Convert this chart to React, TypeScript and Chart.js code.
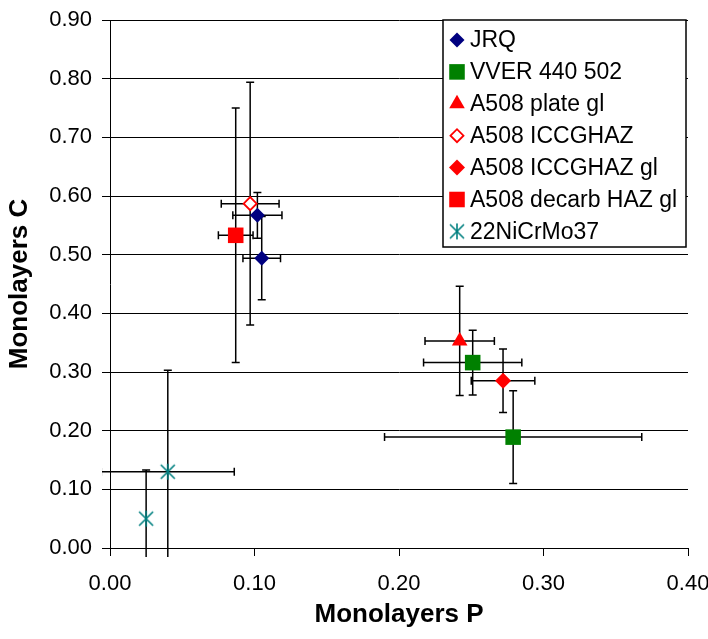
import { useEffect, useRef } from 'react';
import { Chart, registerables } from 'chart.js';
import { drawPoint } from 'chart.js/helpers';

Chart.register(...registerables);

// Segregation data: monolayers of P (x) against monolayers of C (y), with ± uncertainties
const seriesLabels = [
  'JRQ',
  'VVER 440 502',
  'A508 plate gl',
  'A508 ICCGHAZ',
  'A508 ICCGHAZ gl',
  'A508 decarb HAZ gl',
  '22NiCrMo37',
];
const pValues = [[0.102, 0.105], [0.251, 0.279], [0.242], [0.097], [0.272], [0.087], [0.025, 0.04]];
const cValues = [[0.567, 0.494], [0.316, 0.189], [0.353], [0.587], [0.285], [0.533], [0.05, 0.13]];
const pErrors = [[0.017, 0.013], [0.034, 0.089], [0.024], [0.02], [0.022], [0.012], [0, 0.046]];
const cErrors = [[0.039, 0.071], [0.055, 0.079], [0.093], [0.207], [0.054], [0.217], [0.083, 0.173]];

const xTickValues = [0, 0.1, 0.2, 0.3, 0.4];
const yTickValues = [0, 0.1, 0.2, 0.3, 0.4, 0.5, 0.6, 0.7, 0.8, 0.9];

const FONT = "'Liberation Sans', Arial, sans-serif";

function makeAsterisk(color: string): HTMLCanvasElement {
  const c = document.createElement('canvas');
  c.width = 18;
  c.height = 18;
  const g = c.getContext('2d')!;
  g.strokeStyle = color;
  g.lineWidth = 1.6;
  g.beginPath();
  g.moveTo(2, 2); g.lineTo(16, 16);
  g.moveTo(16, 2); g.lineTo(2, 16);
  g.moveTo(9, 1); g.lineTo(9, 17);
  g.stroke();
  return c;
}

const errorBarPlugin = {
  id: 'errorBars',
  beforeDatasetsDraw(chart: any) {
    const { ctx, chartArea, scales } = chart;
    const xs = scales.x;
    const ys = scales.y;
    const cap = 4;
    ctx.save();
    ctx.beginPath();
    ctx.rect(chartArea.left - 8, chartArea.top - 2, chartArea.right - chartArea.left + 10, chartArea.bottom - chartArea.top + 11);
    ctx.clip();
    ctx.strokeStyle = '#000';
    ctx.lineWidth = 1.5;
    chart.data.datasets.forEach((ds: any) => {
      ds.data.forEach((pt: any) => {
        const px = xs.getPixelForValue(pt.x);
        const py = ys.getPixelForValue(pt.y);
        ctx.beginPath();
        if (pt.xErr) {
          const l = xs.getPixelForValue(pt.x - pt.xErr);
          const r = xs.getPixelForValue(pt.x + pt.xErr);
          ctx.moveTo(l, py); ctx.lineTo(r, py);
          ctx.moveTo(l, py - cap); ctx.lineTo(l, py + cap);
          ctx.moveTo(r, py - cap); ctx.lineTo(r, py + cap);
        }
        if (pt.yErr) {
          const t = ys.getPixelForValue(pt.y + pt.yErr);
          const b = ys.getPixelForValue(pt.y - pt.yErr);
          ctx.moveTo(px, t); ctx.lineTo(px, b);
          ctx.moveTo(px - cap, t); ctx.lineTo(px + cap, t);
          ctx.moveTo(px - cap, b); ctx.lineTo(px + cap, b);
        }
        ctx.stroke();
      });
    });
    ctx.restore();
  },
};

const boxLegendPlugin = {
  id: 'boxLegend',
  afterDraw(chart: any) {
    const { ctx, chartArea } = chart;
    const right = chartArea.right - 2;
    const width = 243;
    const left = right - width;
    const top = chartArea.top;
    const rowH = 31.9;
    const height = 227;
    ctx.save();
    ctx.fillStyle = '#fff';
    ctx.fillRect(left, top, width, height);
    ctx.strokeStyle = '#000';
    ctx.lineWidth = 1.5;
    ctx.strokeRect(left, top, width, height);
    ctx.font = `23px ${FONT}`;
    ctx.textBaseline = 'middle';
    ctx.textAlign = 'left';
    chart.data.datasets.forEach((ds: any, i: number) => {
      const cy = top + 20 + i * rowH;
      const cx = left + 14;
      if (ds.pointStyle instanceof HTMLCanvasElement) {
        ctx.drawImage(ds.pointStyle, cx - 9, cy - 9);
      } else {
        ctx.fillStyle = ds.pointBackgroundColor;
        ctx.strokeStyle = ds.pointBorderColor;
        ctx.lineWidth = ds.pointBorderWidth;
        drawPoint(ctx, { pointStyle: ds.pointStyle, radius: ds.pointRadius, rotation: 0, borderWidth: ds.pointBorderWidth }, cx, cy);
      }
      ctx.fillStyle = '#000';
      ctx.fillText(ds.label, left + 27, cy + 1);
    });
    ctx.restore();
  },
};

export default function App() {
  const canvasRef = useRef<HTMLCanvasElement | null>(null);

  useEffect(() => {
    document.body.style.margin = '0';
    const canvas = canvasRef.current;
    if (!canvas) return;

    const styles = [
      { pointStyle: 'rectRot', fill: '#000080', border: '#000080', radius: 7.5, bw: 0 },
      { pointStyle: 'rect', fill: '#008000', border: '#008000', radius: 11, bw: 0 },
      { pointStyle: 'triangle', fill: '#FF0000', border: '#FF0000', radius: 9, bw: 0 },
      { pointStyle: 'rectRot', fill: '#FFFFFF', border: '#FF0000', radius: 6.5, bw: 1.8 },
      { pointStyle: 'rectRot', fill: '#FF0000', border: '#FF0000', radius: 8, bw: 0 },
      { pointStyle: 'rect', fill: '#FF0000', border: '#FF0000', radius: 11, bw: 0 },
      { pointStyle: makeAsterisk('#008080'), fill: '#008080', border: '#008080', radius: 8, bw: 0 },
    ];

    const datasets = seriesLabels.map((label, i) => ({
      label,
      data: pValues[i].map((p, j) => ({ x: p, y: cValues[i][j], xErr: pErrors[i][j], yErr: cErrors[i][j] })),
      showLine: false,
      pointStyle: styles[i].pointStyle as any,
      pointRadius: styles[i].radius,
      pointHoverRadius: styles[i].radius,
      pointBackgroundColor: styles[i].fill,
      pointBorderColor: styles[i].border,
      pointBorderWidth: styles[i].bw,
      backgroundColor: styles[i].fill,
      borderColor: styles[i].border,
      clip: false as any,
    }));

    const chart = new Chart(canvas, {
      type: 'scatter',
      data: { datasets },
      options: {
        responsive: false,
        animation: false,
        layout: { padding: 0 },
        plugins: {
          legend: { display: false },
          tooltip: { enabled: false },
        },
        scales: {
          x: {
            type: 'linear',
            min: 0,
            max: 0.4,
            afterBuildTicks: (scale: any) => { scale.ticks = xTickValues.map((v) => ({ value: v })); },
            afterFit: (scale: any) => {
              scale.height = 91;
              scale.paddingLeft = 0;
              scale.paddingRight = 20;
            },
            grid: { drawOnChartArea: false, drawTicks: true, tickLength: 8, tickColor: '#000', lineWidth: 1 },
            border: { display: true, color: '#000', width: 1 },
            ticks: {
              color: '#000',
              padding: 15,
              font: { family: FONT, size: 22 },
              callback: (v: any) => Number(v).toFixed(2),
            },
            title: {
              display: true,
              text: 'Monolayers P',
              color: '#000',
              font: { family: FONT, size: 26, weight: 'bold' },
              padding: { top: 0, bottom: 9 },
            },
          },
          y: {
            type: 'linear',
            min: 0,
            max: 0.9,
            afterBuildTicks: (scale: any) => { scale.ticks = yTickValues.map((v) => ({ value: v })); },
            afterFit: (scale: any) => {
              scale.width = 110;
              scale.paddingTop = 20;
              scale.paddingBottom = 0;
            },
            grid: { drawOnChartArea: true, drawTicks: true, tickLength: 8, color: '#000', tickColor: '#000', lineWidth: 1 },
            border: { display: true, color: '#000', width: 1 },
            ticks: {
              color: '#000',
              padding: 10,
              font: { family: FONT, size: 22 },
              callback: (v: any) => Number(v).toFixed(2),
            },
            title: {
              display: true,
              text: 'Monolayers C',
              color: '#000',
              font: { family: FONT, size: 26, weight: 'bold' },
              padding: { top: 4, bottom: 0 },
            },
          },
        },
      },
      plugins: [errorBarPlugin, boxLegendPlugin],
    });

    return () => chart.destroy();
  }, []);

  return (
    <div style={{ width: 708, height: 639 }}>
      <canvas ref={canvasRef} width={708} height={639} />
    </div>
  );
}
